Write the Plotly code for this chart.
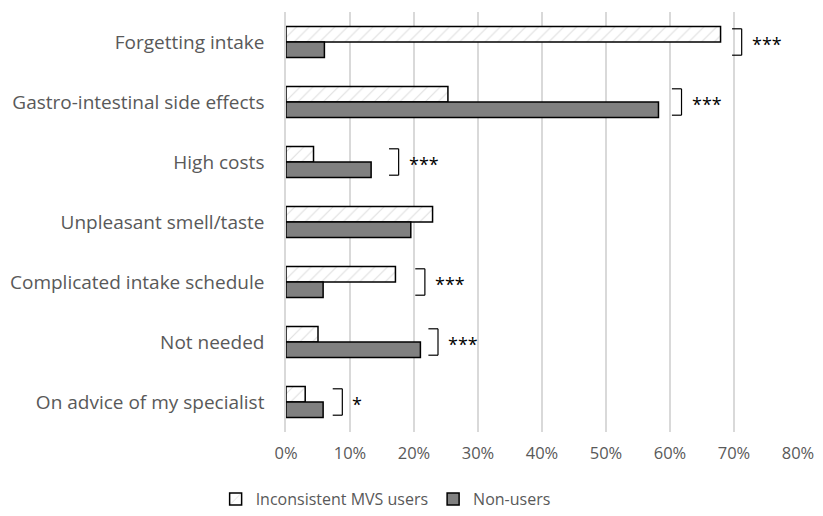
import plotly.graph_objects as go

# Reasons for inconsistent use / non-use (percent of respondents)
categories = [
    "Forgetting intake",
    "Gastro-intestinal side effects",
    "High costs",
    "Unpleasant smell/taste",
    "Complicated intake schedule",
    "Not needed",
    "On advice of my specialist",
]
inconsistent_users = [67.9, 25.3, 4.3, 22.9, 17.1, 5.0, 3.0]
non_users = [6.0, 58.2, 13.3, 19.5, 5.8, 21.0, 5.8]
significance = ["***", "***", "***", "", "***", "***", "*"]

# x position (in %) of the vertical stroke of each significance bracket
bracket_x = [71.2, 61.8, 17.6, None, 21.7, 23.75, 8.8]

x_ticks = [0, 10, 20, 30, 40, 50, 60, 70, 80]
x_tick_text = [f"{t}%" for t in x_ticks]

ypos = list(range(len(categories)))

fig = go.Figure()
fig.add_trace(go.Bar(
    name="Inconsistent MVS users",
    y=ypos, x=inconsistent_users, orientation="h",
    marker=dict(
        color="white",
        line=dict(color="black", width=1.5),
        pattern=dict(shape="/", fgcolor="#bdbdbd", bgcolor="white", size=9, solidity=0.12),
    ),
))
fig.add_trace(go.Bar(
    name="Non-users",
    y=ypos, x=non_users, orientation="h",
    marker=dict(color="#808080", line=dict(color="black", width=1.5)),
))

tick_len = 1.5
half = 0.22
for i, (bx, sig) in enumerate(zip(bracket_x, significance)):
    if bx is None or not sig:
        continue
    line = dict(color="black", width=1.2)
    fig.add_shape(type="line", x0=bx - tick_len, x1=bx, y0=i - half, y1=i - half, line=line)
    fig.add_shape(type="line", x0=bx, x1=bx, y0=i - half, y1=i + half, line=line)
    fig.add_shape(type="line", x0=bx - tick_len, x1=bx, y0=i + half, y1=i + half, line=line)
    fig.add_annotation(x=bx, y=i, text=sig, showarrow=False, xanchor="left",
                       yanchor="middle", xshift=8, yshift=-2,
                       font=dict(size=18, color="black", family="Open Sans"))

fig.update_layout(
    width=823, height=516,
    margin=dict(l=286, r=25, t=12, b=84, autoexpand=False),
    paper_bgcolor="white", plot_bgcolor="white",
    barmode="group", bargap=0.48, bargroupgap=0,
    font=dict(family="Open Sans", size=16, color="#595959"),
    showlegend=True,
    legend=dict(orientation="h", xref="container", x=0.262, xanchor="left",
                yref="container", y=0.0, yanchor="bottom",
                font=dict(size=16, color="#595959"), traceorder="normal",
                itemwidth=30, tracegroupgap=0),
)
fig.update_xaxes(
    range=[0, 80], tickvals=x_ticks, ticktext=x_tick_text,
    showgrid=True, gridcolor="#d9d9d9", gridwidth=1.5,
    zeroline=False, showline=False, ticks="", ticklabelstandoff=9,
    tickfont=dict(size=16.5), automargin=False,
)
fig.update_yaxes(
    range=[len(categories) - 0.5, -0.5],
    tickvals=ypos, ticktext=categories,
    showgrid=False, zeroline=False,
    showline=True, linecolor="#d9d9d9", linewidth=1.5,
    ticks="", ticklabelstandoff=16, tickfont=dict(size=19), automargin=False,
)

fig.write_html("out.html")
